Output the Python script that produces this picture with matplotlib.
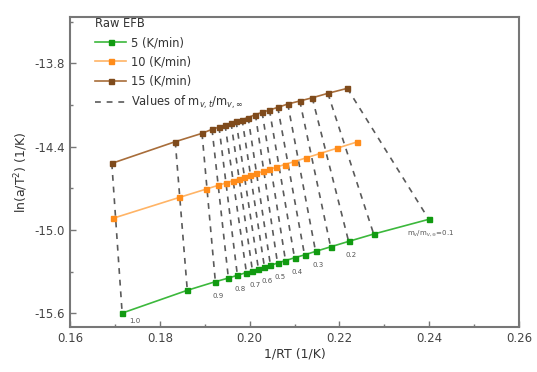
import matplotlib
matplotlib.use("Agg")
import matplotlib.pyplot as plt
from matplotlib.ticker import MultipleLocator, FormatStrFormatter

# conversion levels (left to right: 1.0 ... 0.1)
conv = [1.0, 0.95, 0.9, 0.85, 0.8, 0.75, 0.7, 0.65, 0.6, 0.55,
        0.5, 0.45, 0.4, 0.35, 0.3, 0.25, 0.2, 0.15, 0.1]

x_5 = [0.17161, 0.18612, 0.19237, 0.19527, 0.19728, 0.19929, 0.20063, 0.20196, 0.20330, 0.20464,
       0.20621, 0.20799, 0.21000, 0.21223, 0.21469, 0.21804, 0.22205, 0.22763, 0.23991]
y_5 = [-15.598, -15.434, -15.372, -15.346, -15.326, -15.306, -15.293, -15.280, -15.267, -15.254,
       -15.238, -15.220, -15.200, -15.179, -15.154, -15.121, -15.082, -15.029, -14.923]

x_10 = [0.16953, 0.18438, 0.19036, 0.19292, 0.19471, 0.19627, 0.19761, 0.19884, 0.20018, 0.20152,
        0.20297, 0.20442, 0.20598, 0.20777, 0.20978, 0.21246, 0.21558, 0.21938, 0.22384]
y_10 = [-14.916, -14.765, -14.705, -14.679, -14.661, -14.645, -14.632, -14.619, -14.606, -14.593,
        -14.578, -14.563, -14.547, -14.529, -14.509, -14.482, -14.450, -14.412, -14.367]

x_15 = [0.16931, 0.18344, 0.18940, 0.19163, 0.19319, 0.19453, 0.19587, 0.19699, 0.19833, 0.19967,
        0.20129, 0.20279, 0.20442, 0.20627, 0.20850, 0.21118, 0.21395, 0.21743, 0.22176]
y_15 = [-14.520, -14.364, -14.304, -14.275, -14.259, -14.244, -14.230, -14.218, -14.205, -14.190,
        -14.169, -14.153, -14.136, -14.117, -14.093, -14.071, -14.048, -14.016, -13.980]

labelled = [1.0, 0.9, 0.8, 0.7, 0.6, 0.5, 0.4, 0.3, 0.2]

fig = plt.figure(figsize=(5.37, 3.72), dpi=100)
ax = fig.add_axes([0.1304, 0.1218, 0.8361, 0.8332])

# iso-conversion dashed lines
for i in range(len(conv)):
    ax.plot([x_15[i], x_5[i]], [y_15[i], y_5[i]], color='#5a5a5a', lw=1.2,
            dashes=(3.5, 3.5), zorder=1)

ax.plot(x_5, y_5, color='#3cb83c', lw=1.2, marker='s', ms=3.6,
        mfc='#119a11', mec='#119a11', zorder=3, label='5 (K/min)')
ax.plot(x_10, y_10, color='#ffb466', lw=1.2, marker='s', ms=3.6,
        mfc='#ff8c1a', mec='#ff8c1a', zorder=3, label='10 (K/min)')
ax.plot(x_15, y_15, color='#a86d3a', lw=1.2, marker='s', ms=3.6,
        mfc='#7f4b1c', mec='#7f4b1c', zorder=3, label='15 (K/min)')
ax.plot([], [], color='#5a5a5a', lw=1.2, dashes=(3.5, 3.5),
        label='Values of m$_{v,t}$/m$_{v,\\infty}$')

for i, c in enumerate(conv):
    if c in labelled:
        off = (9, -6) if c == 1.0 else (2, -10)
        ax.annotate(f'{c:.1f}', (x_5[i], y_5[i]), xytext=off, textcoords='offset points',
                    ha='center', va='center', fontsize=5, color='#555555')
ax.annotate('m$_{v}$/m$_{v,\\infty}$=0.1', (x_5[-1], y_5[-1]), xytext=(1, -10),
            textcoords='offset points', ha='center', va='center', fontsize=5, color='#555555')

ax.set_xlim(0.16, 0.26)
ax.set_ylim(-15.696, -13.4645)
ax.xaxis.set_major_locator(MultipleLocator(0.02))
ax.xaxis.set_minor_locator(MultipleLocator(0.01))
ax.set_yticks([-15.6, -15.0, -14.4, -13.8])
ax.yaxis.set_minor_locator(MultipleLocator(0.3))
ax.xaxis.set_major_formatter(FormatStrFormatter('%.2f'))
ax.yaxis.set_major_formatter(FormatStrFormatter('%.1f'))
ax.tick_params(which='both', direction='in', color='#777777', width=1.0, labelsize=8.5,
               labelcolor='#444444')
ax.tick_params(which='major', length=4)
ax.tick_params(which='minor', length=2.5)
for s in ax.spines.values():
    s.set_color('#777777')
    s.set_linewidth(1.5)

ax.set_xlabel('1/RT (1/K)', fontsize=9, color='#333333', labelpad=2)
ax.set_ylabel('ln(a/T$^2$) (1/K)', fontsize=9, color='#333333', labelpad=3)

leg = ax.legend(loc='upper left', bbox_to_anchor=(0.035, 1.03), frameon=False,
                title='Raw EFB', fontsize=8.3, title_fontsize=8.3, handlelength=2.7,
                labelspacing=0.55, handletextpad=0.45, borderpad=0.3)
leg._legend_box.align = 'left'
for t in leg.get_texts():
    t.set_color('#333333')
leg.get_title().set_color('#333333')

fig.savefig('out.png', dpi=100)
